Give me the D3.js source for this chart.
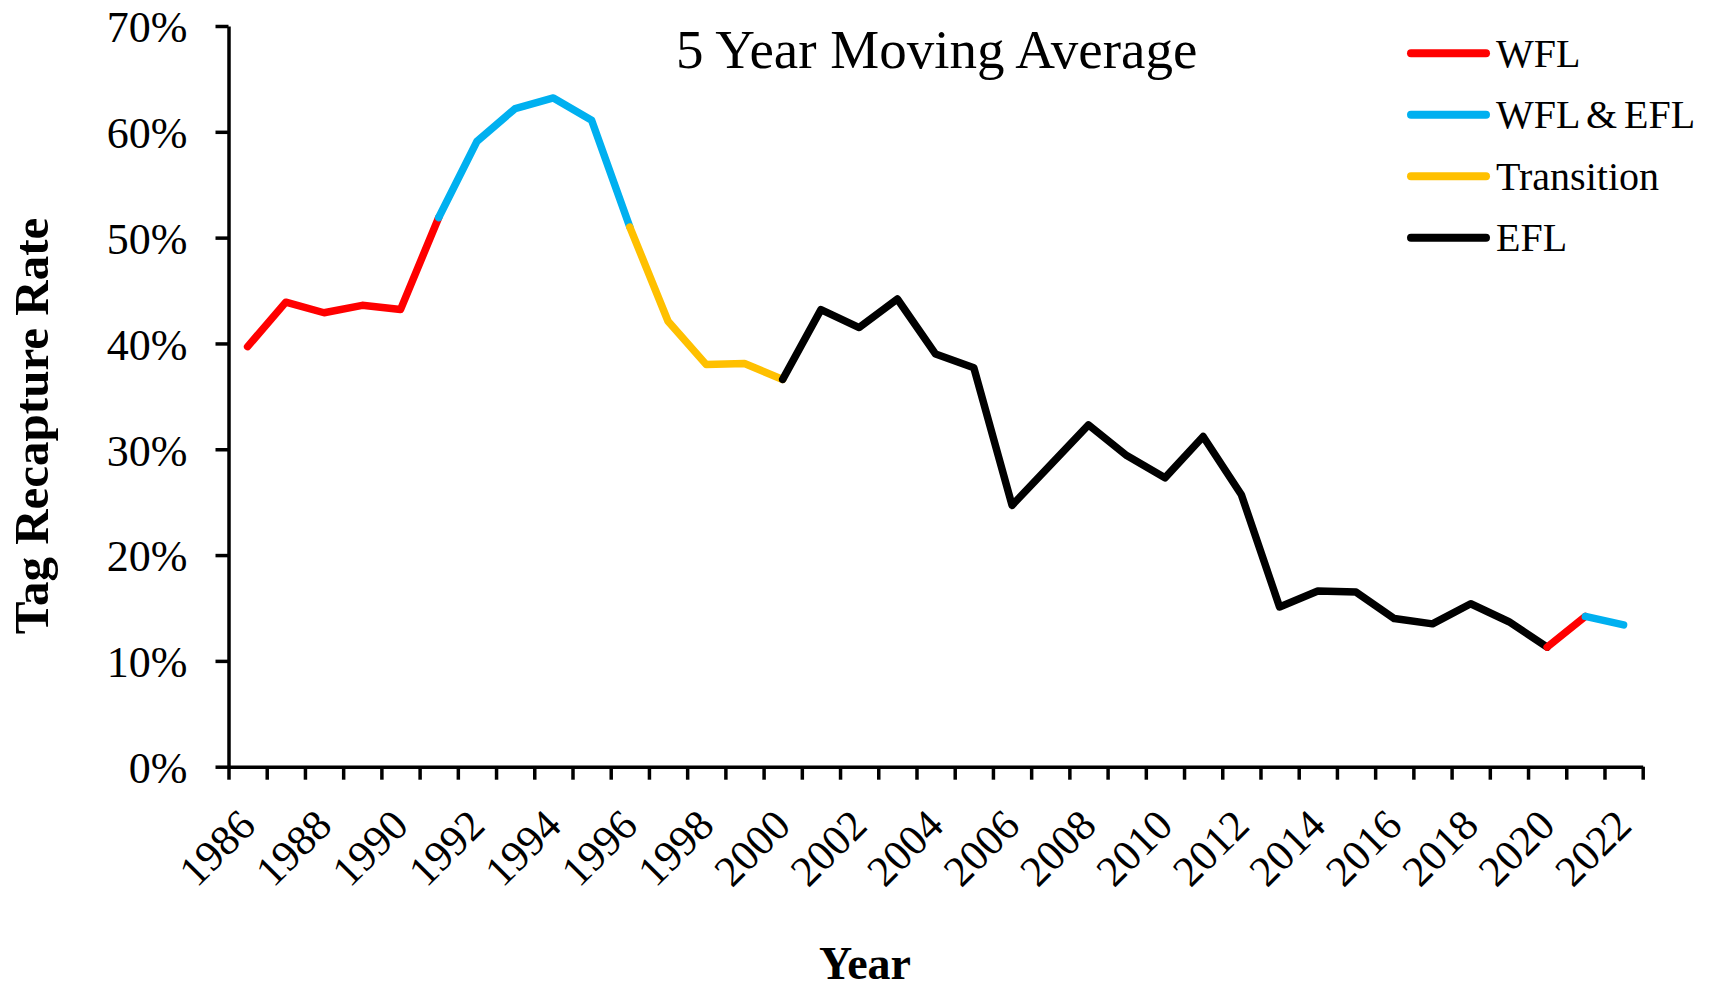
<!DOCTYPE html>
<html>
<head>
<meta charset="utf-8">
<script src="https://cdn.jsdelivr.net/npm/d3@7"></script>
<style>
  html, body { margin: 0; padding: 0; background: #fff; }
  svg { display: block; }
  text { font-family: "Liberation Serif", "Times New Roman", serif; fill: #000; }
</style>
</head>
<body>
<svg id="chart" width="1709" height="989"></svg>
<script>
// ---- Data ----
const years = [1986, 1987, 1988, 1989, 1990, 1991, 1992, 1993, 1994, 1995, 1996, 1997, 1998, 1999,
               2000, 2001, 2002, 2003, 2004, 2005, 2006, 2007, 2008, 2009, 2010, 2011, 2012,
               2013, 2014, 2015, 2016, 2017, 2018, 2019, 2020, 2021, 2022];
const rates = [39.7, 43.9, 42.9, 43.6, 43.2, 51.9, 59.1, 62.2, 63.2, 61.1, 51.0, 42.1, 38.0, 38.1,
               36.6, 43.2, 41.5, 44.2, 39.0, 37.7, 24.7, 28.5, 32.3, 29.4, 27.3, 31.2, 25.7,
               15.1, 16.6, 16.5, 14.0, 13.5, 15.4, 13.7, 11.3, 14.2, 13.4];
const seriesNames = ["WFL", "WFL & EFL", "Transition", "EFL"];
const seriesColors = ["#FF0000", "#00B0F0", "#FFC000", "#000000"];
// colored stretches of the line: [start year, end year, series]
const segStart = [1986, 1991, 1996, 2000, 2020, 2021];
const segEnd   = [1991, 1996, 2000, 2020, 2021, 2022];
const segSeries = ["WFL", "WFL & EFL", "Transition", "EFL", "WFL", "WFL & EFL"];
const yTicks = [0, 10, 20, 30, 40, 50, 60, 70];
const xLabelYears = [1986, 1988, 1990, 1992, 1994, 1996, 1998, 2000, 2002, 2004, 2006, 2008,
                     2010, 2012, 2014, 2016, 2018, 2020, 2022];
const chartTitle = "5 Year Moving Average";
const xTitle = "Year";
const yTitle = "Tag Recapture Rate";

// ---- Layout ----
const svg = d3.select("#chart");
const plotLeft = 228.5, plotRight = 1642.7, plotTop = 26, plotBottom = 766.7;

const x = d3.scaleLinear().domain([years[0] - 0.5, years[years.length - 1] + 0.5]).range([plotLeft, plotRight]);
const y = d3.scaleLinear().domain([0, 70]).range([plotBottom, plotTop]);
const color = d3.scaleOrdinal().domain(seriesNames).range(seriesColors);

const data = years.map((yr, i) => ({ year: yr, v: rates[i] }));

// Y axis
const yAxis = d3.axisLeft(y).tickValues(yTicks).tickFormat(d => d + "%").tickSize(13).tickPadding(28).tickSizeOuter(0);
const gy = svg.append("g").attr("transform", `translate(${plotLeft},0)`).call(yAxis);
gy.attr("font-family", null).attr("font-size", null);
gy.select(".domain").attr("stroke", "#000").attr("stroke-width", 3.5);
gy.selectAll(".tick line").attr("stroke", "#000").attr("stroke-width", 3.5);
gy.selectAll(".tick text")
  .style("font-size", "44px")
  .attr("dy", "0.36em");

// X axis (ticks between categories)
const edges = years.map(yr => yr - 0.5).concat([years[years.length - 1] + 0.5]);
const xAxis = d3.axisBottom(x).tickValues(edges).tickFormat("").tickSize(13).tickSizeOuter(0);
const gx = svg.append("g").attr("transform", `translate(0,${plotBottom})`).call(xAxis);
gx.select(".domain").attr("stroke", "#000").attr("stroke-width", 3.5);
gx.selectAll(".tick line").attr("stroke", "#000").attr("stroke-width", 3.5);

// X labels rotated
svg.append("g").selectAll("text")
  .data(xLabelYears)
  .join("text")
  .attr("transform", d => `translate(${x(d) + 10},${plotBottom + 61}) rotate(-45)`)
  .attr("text-anchor", "end")
  .style("font-size", "43px")
  .text(d => d);

// Line segments
const line = d3.line().x(d => x(d.year)).y(d => y(d.v));
svg.append("g").selectAll("path")
  .data(segStart.map((s, i) => ({ s, e: segEnd[i], name: segSeries[i] })))
  .join("path")
  .attr("d", seg => line(data.filter(d => d.year >= seg.s && d.year <= seg.e)))
  .attr("fill", "none")
  .attr("stroke", seg => color(seg.name))
  .attr("stroke-width", 7.5)
  .attr("stroke-linejoin", "round")
  .attr("stroke-linecap", "round");

// Title
svg.append("text")
  .attr("x", 676).attr("y", 68)
  .style("font-size", "55px")
  .text(chartTitle);

// Legend
const lg = svg.append("g");
const legY = [53.3, 114.8, 176.3, 237.8];
seriesNames.forEach((name, i) => {
  lg.append("line")
    .attr("x1", 1411).attr("x2", 1486)
    .attr("y1", legY[i]).attr("y2", legY[i])
    .attr("stroke", color(name)).attr("stroke-width", 8).attr("stroke-linecap", "round");
  lg.append("text")
    .attr("x", 1496).attr("y", legY[i] + 13.4)
    .style("font-size", "40px")
    .style("word-spacing", "-3px")
    .text(name);
});

// Axis titles
svg.append("text")
  .attr("transform", `translate(48,426) rotate(-90)`)
  .attr("text-anchor", "middle")
  .style("font-size", "49px").style("font-weight", "bold")
  .text(yTitle);

svg.append("text")
  .attr("x", 865).attr("y", 979)
  .attr("text-anchor", "middle")
  .style("font-size", "46px").style("font-weight", "bold")
  .text(xTitle);
</script>
</body>
</html>
